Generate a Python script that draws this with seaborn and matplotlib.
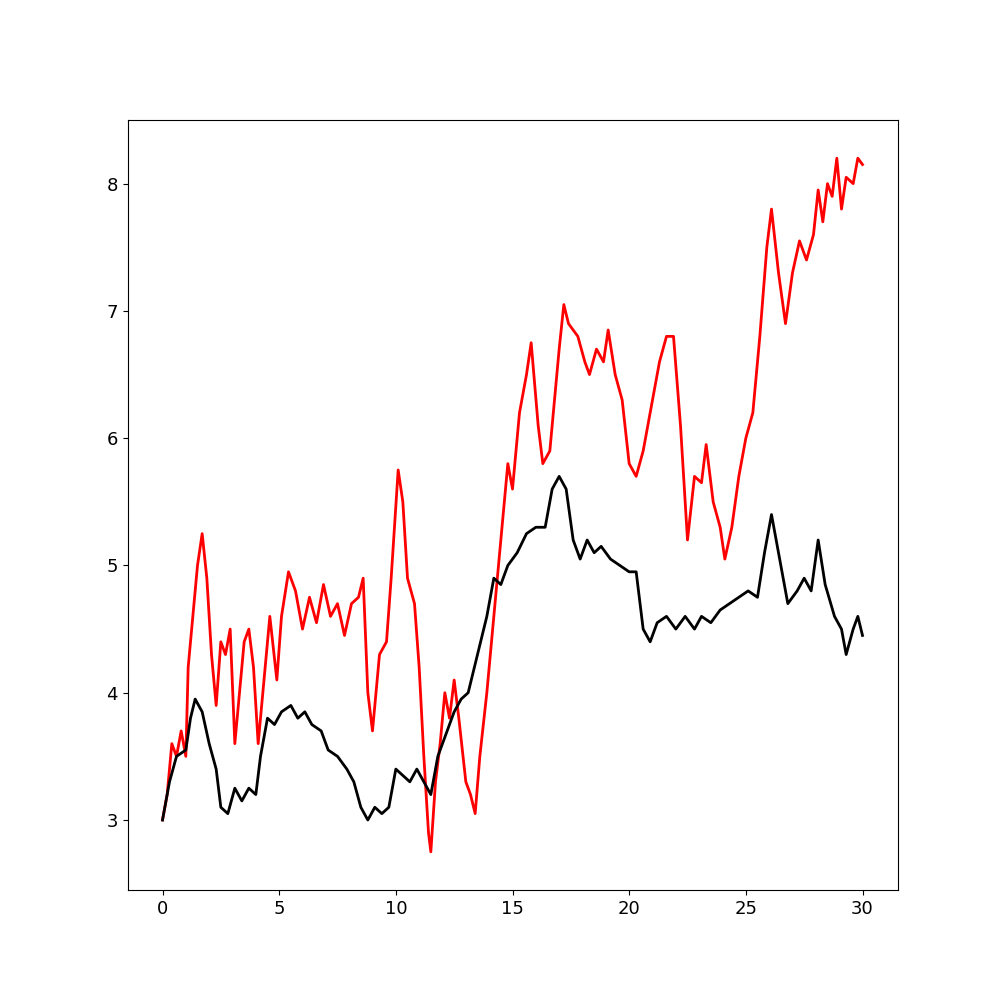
import matplotlib
matplotlib.use("Agg")
import matplotlib.pyplot as plt
import seaborn as sns
import pandas as pd

red_x = [0, 0.2, 0.4, 0.6, 0.8, 1.0, 1.1, 1.3, 1.5, 1.7, 1.9, 2.1, 2.3, 2.5, 2.7, 2.9, 3.1, 3.3, 3.5, 3.7,
         3.9, 4.1, 4.3, 4.6, 4.9, 5.1, 5.4, 5.7, 6.0, 6.3, 6.6, 6.9, 7.2, 7.5, 7.8, 8.1, 8.4, 8.6, 8.8, 9.0,
         9.3, 9.6, 9.8, 10.1, 10.3, 10.5, 10.8, 11.0, 11.2, 11.4, 11.5, 11.7, 11.9, 12.1, 12.3, 12.5, 12.7, 13.0, 13.2, 13.4,
         13.6, 13.9, 14.2, 14.5, 14.8, 15.0, 15.3, 15.6, 15.8, 16.1, 16.3, 16.6, 17.0, 17.2, 17.4, 17.8, 18.1, 18.3, 18.6, 18.9,
         19.1, 19.4, 19.7, 20.0, 20.3, 20.6, 21.0, 21.3, 21.6, 21.9, 22.2, 22.5, 22.8, 23.1, 23.3, 23.6, 23.9, 24.1, 24.4, 24.7,
         25.0, 25.3, 25.6, 25.9, 26.1, 26.4, 26.7, 27.0, 27.3, 27.6, 27.9, 28.1, 28.3, 28.5, 28.7, 28.9, 29.1, 29.3, 29.6, 29.8, 30]
red_y = [3.0, 3.2, 3.6, 3.5, 3.7, 3.5, 4.2, 4.6, 5.0, 5.25, 4.9, 4.3, 3.9, 4.4, 4.3, 4.5, 3.6, 4.0, 4.4, 4.5,
         4.2, 3.6, 4.0, 4.6, 4.1, 4.6, 4.95, 4.8, 4.5, 4.75, 4.55, 4.85, 4.6, 4.7, 4.45, 4.7, 4.75, 4.9, 4.0, 3.7,
         4.3, 4.4, 4.9, 5.75, 5.5, 4.9, 4.7, 4.2, 3.5, 2.9, 2.75, 3.3, 3.6, 4.0, 3.8, 4.1, 3.8, 3.3, 3.2, 3.05,
         3.5, 4.0, 4.6, 5.2, 5.8, 5.6, 6.2, 6.5, 6.75, 6.1, 5.8, 5.9, 6.7, 7.05, 6.9, 6.8, 6.6, 6.5, 6.7, 6.6,
         6.85, 6.5, 6.3, 5.8, 5.7, 5.9, 6.3, 6.6, 6.8, 6.8, 6.1, 5.2, 5.7, 5.65, 5.95, 5.5, 5.3, 5.05, 5.3, 5.7,
         6.0, 6.2, 6.8, 7.5, 7.8, 7.3, 6.9, 7.3, 7.55, 7.4, 7.6, 7.95, 7.7, 8.0, 7.9, 8.2, 7.8, 8.05, 8.0, 8.2, 8.15]

black_x = [0, 0.3, 0.6, 1.0, 1.2, 1.4, 1.7, 2.0, 2.3, 2.5, 2.8, 3.1, 3.4, 3.7, 4.0, 4.2, 4.5, 4.8, 5.1, 5.5,
           5.8, 6.1, 6.4, 6.8, 7.1, 7.5, 7.9, 8.2, 8.5, 8.8, 9.1, 9.4, 9.7, 10.0, 10.3, 10.6, 10.9, 11.2, 11.5, 11.8,
           12.2, 12.5, 12.8, 13.1, 13.5, 13.9, 14.2, 14.5, 14.8, 15.2, 15.6, 16.0, 16.4, 16.7, 17.0, 17.3, 17.6, 17.9, 18.2, 18.5,
           18.8, 19.2, 19.6, 20.0, 20.3, 20.6, 20.9, 21.2, 21.6, 22.0, 22.4, 22.8, 23.1, 23.5, 23.9, 24.3, 24.7, 25.1, 25.5, 25.8,
           26.1, 26.4, 26.8, 27.2, 27.5, 27.8, 28.1, 28.4, 28.8, 29.1, 29.3, 29.6, 29.8, 30]
black_y = [3.0, 3.3, 3.5, 3.55, 3.8, 3.95, 3.85, 3.6, 3.4, 3.1, 3.05, 3.25, 3.15, 3.25, 3.2, 3.5, 3.8, 3.75, 3.85, 3.9,
           3.8, 3.85, 3.75, 3.7, 3.55, 3.5, 3.4, 3.3, 3.1, 3.0, 3.1, 3.05, 3.1, 3.4, 3.35, 3.3, 3.4, 3.3, 3.2, 3.5,
           3.7, 3.85, 3.95, 4.0, 4.3, 4.6, 4.9, 4.85, 5.0, 5.1, 5.25, 5.3, 5.3, 5.6, 5.7, 5.6, 5.2, 5.05, 5.2, 5.1,
           5.15, 5.05, 5.0, 4.95, 4.95, 4.5, 4.4, 4.55, 4.6, 4.5, 4.6, 4.5, 4.6, 4.55, 4.65, 4.7, 4.75, 4.8, 4.75, 5.1,
           5.4, 5.1, 4.7, 4.8, 4.9, 4.8, 5.2, 4.85, 4.6, 4.5, 4.3, 4.5, 4.6, 4.45]

red_df = pd.DataFrame({"t": red_x, "v": red_y})
black_df = pd.DataFrame({"t": black_x, "v": black_y})

fig, ax = plt.subplots(figsize=(10, 10), dpi=100)
sns.lineplot(data=red_df, x="t", y="v", color="red", linewidth=2, ax=ax)
sns.lineplot(data=black_df, x="t", y="v", color="black", linewidth=2, ax=ax)
ax.set_xlabel("")
ax.set_ylabel("")
ax.set_xticks([0, 5, 10, 15, 20, 25, 30])
ax.set_yticks([3, 4, 5, 6, 7, 8])
ax.tick_params(labelsize=13)
ax.set_ylim(2.45, 8.5)
ax.set_xlim(-1.5, 31.5)
ax.set_box_aspect(1)
plt.savefig("out.png")
